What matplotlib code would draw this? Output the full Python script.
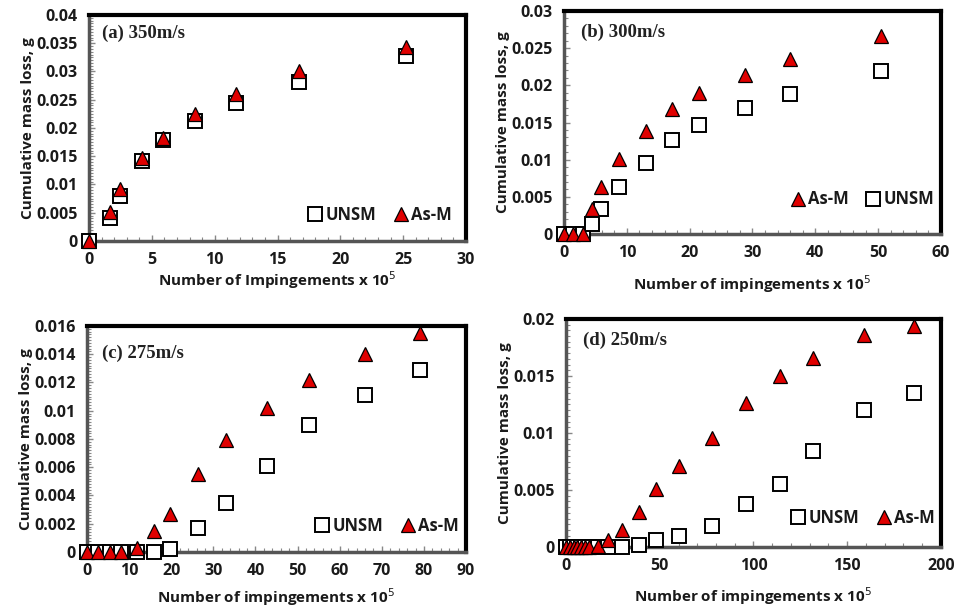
import matplotlib.pyplot as plt
from matplotlib.ticker import MultipleLocator, AutoMinorLocator, FuncFormatter

# (a) 350 m/s
a_x = [0, 1.7, 2.5, 4.2, 5.9, 8.4, 11.7, 16.7, 25.2]
a_unsm = [0, 0.0041, 0.0080, 0.0142, 0.0179, 0.0213, 0.0244, 0.0282, 0.0328]
a_asm = [0, 0.0052, 0.0092, 0.0147, 0.0183, 0.0225, 0.0260, 0.0300, 0.0344]

# (b) 300 m/s
b_x = [0, 1.5, 3.0, 4.4, 5.9, 8.8, 13.0, 17.2, 21.5, 28.8, 36.0, 50.4]
b_unsm = [0, 0, 0, 0.0014, 0.0034, 0.0063, 0.0096, 0.0126, 0.0146, 0.0170, 0.0188, 0.0219]
b_asm = [0, 0, 0, 0.0034, 0.0063, 0.0101, 0.0139, 0.0168, 0.0190, 0.0214, 0.0236, 0.0266]

# (c) 275 m/s
c_x = [0, 2.7, 5.4, 8.0, 11.9, 15.9, 19.8, 26.4, 33.0, 42.8, 52.8, 66.0, 79.1]
c_unsm = [0, 0, 0, 0, 0, 0, 0.0002, 0.0017, 0.0035, 0.0061, 0.0090, 0.0111, 0.0129]
c_asm = [0, 0, 0, 0, 0.0003, 0.0015, 0.0027, 0.0055, 0.0079, 0.0102, 0.0122, 0.0140, 0.0155]

# (d) 250 m/s
d_x = [0, 2, 4, 6, 8, 10, 12.5, 16.8, 22.6, 30.0, 39.0, 48.0, 60.0, 78.1, 95.9, 113.9, 131.7, 158.7, 185.4]
d_unsm = [0, 0, 0, 0, 0, 0, 0, 0, 0, 0, 0.0002, 0.0006, 0.0010, 0.0018, 0.0038, 0.0055, 0.0084, 0.0120, 0.0135]
d_asm = [0, 0, 0, 0, 0, 0, 0, 0.0001, 0.0006, 0.0015, 0.0031, 0.0051, 0.0071, 0.0096, 0.0126, 0.0150, 0.0166, 0.0186, 0.0194]

SANS = 'Open Sans'
SERIF = 'Liberation Serif'

fig = plt.figure(figsize=(9.55, 6.09), dpi=100)

panels = [
    dict(rect=[0.0932, 0.6043, 0.3948, 0.3711], x=a_x, u=a_unsm, m=a_asm,
         xlim=30, xmaj=5, xmin=1, ylim=0.04, ymaj=0.005, ymin=10,
         title='(a) 350m/s', tpos=(0.034, 0.92),
         xlabel='Number of Impingements x 10$^5$', xpad=1,
         order='um', lpos=(0.77, 0.115)),
    dict(rect=[0.5906, 0.6158, 0.3947, 0.3661], x=b_x, u=b_unsm, m=b_asm,
         xlim=60, xmaj=10, xmin=2, ylim=0.03, ymaj=0.005, ymin=5,
         title='(b) 300m/s', tpos=(0.045, 0.905),
         xlabel='Number of impingements x 10$^5$', xpad=9,
         order='mu', lpos=(0.79, 0.155)),
    dict(rect=[0.0911, 0.0936, 0.3969, 0.3711], x=c_x, u=c_unsm, m=c_asm,
         xlim=90, xmaj=10, xmin=2, ylim=0.016, ymaj=0.002, ymin=10,
         title='(c) 275m/s', tpos=(0.04, 0.88),
         xlabel='Number of impingements x 10$^5$', xpad=5,
         order='um', lpos=(0.79, 0.115)),
    dict(rect=[0.5927, 0.1018, 0.3926, 0.3744], x=d_x, u=d_unsm, m=d_asm,
         xlim=200, xmaj=50, xmin=10, ylim=0.02, ymaj=0.005, ymin=10,
         title='(d) 250m/s', tpos=(0.045, 0.905),
         xlabel='Number of impingements x 10$^5$', xpad=8,
         order='um', lpos=(0.79, 0.128)),
]

for p in panels:
    ax = fig.add_axes(p['rect'])
    hu, = ax.plot(p['x'], p['u'], 's', ms=9.5, mfc='white', mec='black',
                  mew=1.4, clip_on=False, zorder=3, label='UNSM')
    hm, = ax.plot(p['x'], p['m'], '^', ms=9.5, mfc='#e00000', mec='black',
                  mew=0.9, clip_on=False, zorder=4, label='As-M')

    ax.set_xlim(0, p['xlim'])
    ax.set_ylim(0, p['ylim'])
    ax.xaxis.set_major_locator(MultipleLocator(p['xmaj']))
    ax.xaxis.set_minor_locator(MultipleLocator(p['xmin']))
    ax.yaxis.set_major_locator(MultipleLocator(p['ymaj']))
    ax.yaxis.set_minor_locator(AutoMinorLocator(p['ymin']))
    ax.yaxis.set_major_formatter(FuncFormatter(lambda v, pos: '%g' % round(v, 4)))

    ax.tick_params(which='both', direction='in', color='#888888',
                   top=False, right=False)
    ax.tick_params(which='major', length=4, width=1, pad=8)
    ax.tick_params(which='minor', length=3, width=0.8)
    for lab in ax.get_xticklabels() + ax.get_yticklabels():
        lab.set_fontfamily(SANS)
        lab.set_fontweight('bold')
        lab.set_fontsize(11.5)
        lab.set_color('#1a1a1a')

    ax.spines['top'].set_linewidth(3)
    ax.spines['right'].set_linewidth(3)
    ax.spines['left'].set_linewidth(2.5)
    ax.spines['bottom'].set_linewidth(2.5)
    ax.spines['left'].set_color('#555555')
    ax.spines['bottom'].set_color('#555555')

    ax.set_xlabel(p['xlabel'], family=SANS, weight='bold', fontsize=11,
                  color='#1a1a1a', labelpad=p['xpad'])
    ax.set_ylabel('Cumulative mass loss, g', family=SANS, weight='bold',
                  fontsize=11, color='#1a1a1a', labelpad=1)

    ax.text(p['tpos'][0], p['tpos'][1], p['title'], transform=ax.transAxes,
            family=SERIF, weight='bold', fontsize=13.5, color='#222222',
            va='center', ha='left')

    handles = [hu, hm] if p['order'] == 'um' else [hm, hu]
    leg = ax.legend(handles=handles, loc='center', bbox_to_anchor=p['lpos'],
                    ncol=2, frameon=False, handletextpad=0.1,
                    columnspacing=1.0, handlelength=1.0,
                    prop={'family': SANS, 'weight': 'bold', 'size': 12})
    for t in leg.get_texts():
        t.set_color('#1a1a1a')

fig.savefig('out.png', dpi=100)
